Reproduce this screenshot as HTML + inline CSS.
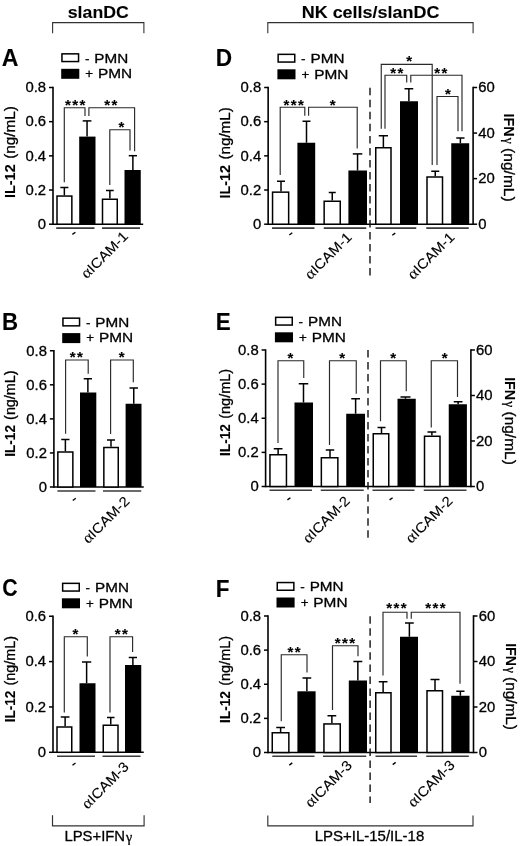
<!DOCTYPE html>
<html><head><meta charset="utf-8"><style>html,body{margin:0;padding:0;background:#fff;overflow:hidden}svg{display:block} text{stroke:#000;stroke-width:0.3px;stroke-linejoin:round} text[font-weight="bold"]{stroke-width:0.1px}</style></head>
<body>
<svg width="520" height="846" viewBox="0 0 520 846" font-family='"Liberation Sans", sans-serif' style="font-kerning:none">
<defs><filter id="bl" x="0" y="0" width="100%" height="100%"><feGaussianBlur stdDeviation="0.35"/></filter></defs>
<rect width="520" height="846" fill="#fff"/>
<g filter="url(#bl)">
<text transform="translate(67.78,17.9) scale(1.0416,1)" font-size="17" font-weight="bold" >slanDC</text>
<polyline points="52.6,33.3 52.6,22.6 143.9,22.6 143.9,33.3" fill="none" stroke="#333" stroke-width="1.1"/>
<text transform="translate(301.7,17.9) scale(1.0569,1)" font-size="17" font-weight="bold" >NK cells/slanDC</text>
<polyline points="267.8,33.3 267.8,22.6 473.1,22.6 473.1,33.3" fill="none" stroke="#333" stroke-width="1.1"/>
<text transform="translate(1.82,66.4) scale(0.9657,1)" font-size="24" font-weight="bold" >A</text>
<text transform="translate(2.11,329.5) scale(0.9292,1)" font-size="24" font-weight="bold" >B</text>
<text transform="translate(2.13,595.8) scale(0.8858,1)" font-size="24" font-weight="bold" >C</text>
<text transform="translate(215.68,66.4) scale(0.9444,1)" font-size="24" font-weight="bold" >D</text>
<text transform="translate(215.7,329.5) scale(0.9358,1)" font-size="24" font-weight="bold" >E</text>
<text transform="translate(215.7,596.5) scale(0.9363,1)" font-size="24" font-weight="bold" >F</text>
<rect x="61.95" y="53.85" width="16.6" height="7.7" fill="#fff" stroke="#000" stroke-width="1.5"/>
<rect x="61.2" y="68.8" width="18.1" height="10" fill="#000"/>
<text transform="translate(84.9,62.5) scale(1.0087,1)" font-size="13.4" font-weight="normal" >-</text>
<text transform="translate(94.35,62.5) scale(1.1383,1)" font-size="13.4" font-weight="normal" >PMN</text>
<text transform="translate(85.35,78.1) scale(0.9984,1)" font-size="13.4" font-weight="normal" >+</text>
<text transform="translate(98.04,78.1) scale(1.1492,1)" font-size="13.4" font-weight="normal" >PMN</text>
<line x1="53" y1="86.75" x2="53" y2="224.95" stroke="#000" stroke-width="1.6" />
<line x1="49" y1="87.5" x2="53" y2="87.5" stroke="#000" stroke-width="1.5" />
<text transform="translate(46.1,92.3) scale(1.04,1)" font-size="14.3" text-anchor="end">0.8</text>
<line x1="49" y1="121.67" x2="53" y2="121.67" stroke="#000" stroke-width="1.5" />
<text transform="translate(46.1,126.48) scale(1.04,1)" font-size="14.3" text-anchor="end">0.6</text>
<line x1="49" y1="155.85" x2="53" y2="155.85" stroke="#000" stroke-width="1.5" />
<text transform="translate(46.1,160.65) scale(1.04,1)" font-size="14.3" text-anchor="end">0.4</text>
<line x1="49" y1="190.02" x2="53" y2="190.02" stroke="#000" stroke-width="1.5" />
<text transform="translate(46.1,194.82) scale(1.04,1)" font-size="14.3" text-anchor="end">0.2</text>
<line x1="49" y1="224.2" x2="53" y2="224.2" stroke="#000" stroke-width="1.5" />
<text transform="translate(46.1,229) scale(1.04,1)" font-size="14.3" text-anchor="end">0</text>
<text transform="translate(15.3,197.96) rotate(-90) scale(0.9609,1)" font-size="15.0" font-weight="bold">IL-12</text>
<text transform="translate(15.3,158.85) rotate(-90) scale(1.0675,1)" font-size="14.3" font-weight="normal">(ng/mL)</text>
<line x1="53" y1="224.2" x2="143.2" y2="224.2" stroke="#000" stroke-width="1.6" />
<line x1="64.35" y1="195.3" x2="64.35" y2="187.5" stroke="#000" stroke-width="1.5" />
<line x1="60.3" y1="187.5" x2="68.4" y2="187.5" stroke="#000" stroke-width="1.5" />
<rect x="57" y="196.05" width="14.85" height="28.15" fill="#fff" stroke="#000" stroke-width="1.5"/>
<line x1="87.05" y1="136.6" x2="87.05" y2="120.9" stroke="#000" stroke-width="1.5" />
<line x1="82.7" y1="120.9" x2="91.4" y2="120.9" stroke="#000" stroke-width="1.5" />
<rect x="79.2" y="136.6" width="16.3" height="87.6" fill="#000"/>
<line x1="109.88" y1="198.5" x2="109.88" y2="190.5" stroke="#000" stroke-width="1.5" />
<line x1="106" y1="190.5" x2="113.75" y2="190.5" stroke="#000" stroke-width="1.5" />
<rect x="102.5" y="199.25" width="14.75" height="24.95" fill="#fff" stroke="#000" stroke-width="1.5"/>
<line x1="132.88" y1="170" x2="132.88" y2="155.7" stroke="#000" stroke-width="1.5" />
<line x1="128.75" y1="155.7" x2="137" y2="155.7" stroke="#000" stroke-width="1.5" />
<rect x="124.5" y="170" width="16.25" height="54.2" fill="#000"/>
<polyline points="64.3,182.3 64.3,107.7 85,107.7 85,116" fill="none" stroke="#2a2a2a" stroke-width="1.15"/>
<polyline points="88.9,116 88.9,107.7 134.6,107.7 134.6,151.25" fill="none" stroke="#2a2a2a" stroke-width="1.15"/>
<polyline points="109.8,185 109.8,129.7 130,129.7 130,150.4" fill="none" stroke="#2a2a2a" stroke-width="1.15"/>
<text x="75.87" y="109.7" font-size="15" font-weight="bold" text-anchor="middle" letter-spacing="1.45">***</text>
<text x="111.47" y="109.7" font-size="15" font-weight="bold" text-anchor="middle" letter-spacing="1.45">**</text>
<text x="122.12" y="132.3" font-size="15" font-weight="bold" text-anchor="middle" letter-spacing="1.45">*</text>
<line x1="56.2" y1="228.1" x2="94.5" y2="228.1" stroke="#3a3a3a" stroke-width="1.6" />
<line x1="102" y1="228.1" x2="140" y2="228.1" stroke="#3a3a3a" stroke-width="1.6" />
<text transform="translate(129,237.2) rotate(-45) scale(1.08,1)" font-size="13.9" text-anchor="end" style="stroke-width:0.12px"><tspan font-family="Liberation Serif" font-size="15.5">&#945;</tspan>ICAM-1</text>
<line x1="72.4" y1="234.4" x2="75.4" y2="232.2" stroke="#000" stroke-width="1.4"/>
<rect x="62.95" y="318.15" width="16.6" height="7.7" fill="#fff" stroke="#000" stroke-width="1.5"/>
<rect x="62.2" y="333.1" width="18.1" height="10" fill="#000"/>
<text transform="translate(85.9,326.8) scale(1.0087,1)" font-size="13.4" font-weight="normal" >-</text>
<text transform="translate(95.35,326.8) scale(1.1383,1)" font-size="13.4" font-weight="normal" >PMN</text>
<text transform="translate(86.35,342.4) scale(0.9984,1)" font-size="13.4" font-weight="normal" >+</text>
<text transform="translate(99.04,342.4) scale(1.1492,1)" font-size="13.4" font-weight="normal" >PMN</text>
<line x1="53.9" y1="350" x2="53.9" y2="487.75" stroke="#000" stroke-width="1.6" />
<line x1="49.9" y1="350.75" x2="53.9" y2="350.75" stroke="#000" stroke-width="1.5" />
<text transform="translate(47,355.55) scale(1.04,1)" font-size="14.3" text-anchor="end">0.8</text>
<line x1="49.9" y1="384.81" x2="53.9" y2="384.81" stroke="#000" stroke-width="1.5" />
<text transform="translate(47,389.61) scale(1.04,1)" font-size="14.3" text-anchor="end">0.6</text>
<line x1="49.9" y1="418.88" x2="53.9" y2="418.88" stroke="#000" stroke-width="1.5" />
<text transform="translate(47,423.67) scale(1.04,1)" font-size="14.3" text-anchor="end">0.4</text>
<line x1="49.9" y1="452.94" x2="53.9" y2="452.94" stroke="#000" stroke-width="1.5" />
<text transform="translate(47,457.74) scale(1.04,1)" font-size="14.3" text-anchor="end">0.2</text>
<line x1="49.9" y1="487" x2="53.9" y2="487" stroke="#000" stroke-width="1.5" />
<text transform="translate(47,491.8) scale(1.04,1)" font-size="14.3" text-anchor="end">0</text>
<text transform="translate(15,456.73) rotate(-90) scale(0.9047,1)" font-size="15.0" font-weight="bold">IL-12</text>
<text transform="translate(15,419.9) rotate(-90) scale(1.0050,1)" font-size="14.3" font-weight="normal">(ng/mL)</text>
<line x1="53.9" y1="487" x2="143.75" y2="487" stroke="#000" stroke-width="1.6" />
<line x1="65.38" y1="451.25" x2="65.38" y2="439.5" stroke="#000" stroke-width="1.5" />
<line x1="61.25" y1="439.5" x2="69.5" y2="439.5" stroke="#000" stroke-width="1.5" />
<rect x="57.85" y="452" width="15" height="35" fill="#fff" stroke="#000" stroke-width="1.5"/>
<line x1="87.88" y1="392.5" x2="87.88" y2="378.75" stroke="#000" stroke-width="1.5" />
<line x1="83.75" y1="378.75" x2="92" y2="378.75" stroke="#000" stroke-width="1.5" />
<rect x="80" y="392.5" width="16.3" height="94.5" fill="#000"/>
<line x1="111" y1="446.75" x2="111" y2="440" stroke="#000" stroke-width="1.5" />
<line x1="107" y1="440" x2="115" y2="440" stroke="#000" stroke-width="1.5" />
<rect x="103.85" y="447.5" width="14.4" height="39.5" fill="#fff" stroke="#000" stroke-width="1.5"/>
<line x1="133.75" y1="403.75" x2="133.75" y2="388" stroke="#000" stroke-width="1.5" />
<line x1="129.5" y1="388" x2="138" y2="388" stroke="#000" stroke-width="1.5" />
<rect x="125.6" y="403.75" width="15.9" height="83.25" fill="#000"/>
<polyline points="65.6,433.75 65.6,360 88.2,360 88.2,373.8" fill="none" stroke="#2a2a2a" stroke-width="1.15"/>
<polyline points="110.6,434 110.6,360 133.3,360 133.3,382.3" fill="none" stroke="#2a2a2a" stroke-width="1.15"/>
<text x="77.12" y="362.2" font-size="15" font-weight="bold" text-anchor="middle" letter-spacing="1.45">**</text>
<text x="122.47" y="362.2" font-size="15" font-weight="bold" text-anchor="middle" letter-spacing="1.45">*</text>
<line x1="57.4" y1="491" x2="95.5" y2="491" stroke="#3a3a3a" stroke-width="1.6" />
<line x1="103" y1="491" x2="141.25" y2="491" stroke="#3a3a3a" stroke-width="1.6" />
<text transform="translate(130.3,502.2) rotate(-45) scale(1.08,1)" font-size="13.9" text-anchor="end" style="stroke-width:0.12px"><tspan font-family="Liberation Serif" font-size="15.5">&#945;</tspan>ICAM-2</text>
<line x1="72.8" y1="500.5" x2="75.8" y2="498.3" stroke="#000" stroke-width="1.4"/>
<rect x="62.65" y="583.35" width="16.6" height="7.7" fill="#fff" stroke="#000" stroke-width="1.5"/>
<rect x="61.9" y="598.3" width="18.1" height="10" fill="#000"/>
<text transform="translate(85.6,592) scale(1.0087,1)" font-size="13.4" font-weight="normal" >-</text>
<text transform="translate(95.05,592) scale(1.1383,1)" font-size="13.4" font-weight="normal" >PMN</text>
<text transform="translate(86.05,607.6) scale(0.9984,1)" font-size="13.4" font-weight="normal" >+</text>
<text transform="translate(98.74,607.6) scale(1.1492,1)" font-size="13.4" font-weight="normal" >PMN</text>
<line x1="53" y1="615.5" x2="53" y2="753.05" stroke="#000" stroke-width="1.6" />
<line x1="49" y1="616.25" x2="53" y2="616.25" stroke="#000" stroke-width="1.5" />
<text transform="translate(46.1,621.05) scale(1.04,1)" font-size="14.3" text-anchor="end">0.6</text>
<line x1="49" y1="661.6" x2="53" y2="661.6" stroke="#000" stroke-width="1.5" />
<text transform="translate(46.1,666.4) scale(1.04,1)" font-size="14.3" text-anchor="end">0.4</text>
<line x1="49" y1="706.95" x2="53" y2="706.95" stroke="#000" stroke-width="1.5" />
<text transform="translate(46.1,711.75) scale(1.04,1)" font-size="14.3" text-anchor="end">0.2</text>
<line x1="49" y1="752.3" x2="53" y2="752.3" stroke="#000" stroke-width="1.5" />
<text transform="translate(46.1,757.1) scale(1.04,1)" font-size="14.3" text-anchor="end">0</text>
<text transform="translate(14.8,722.33) rotate(-90) scale(0.9058,1)" font-size="15.0" font-weight="bold">IL-12</text>
<text transform="translate(14.8,685.46) rotate(-90) scale(1.0062,1)" font-size="14.3" font-weight="normal">(ng/mL)</text>
<line x1="53" y1="752.3" x2="143.75" y2="752.3" stroke="#000" stroke-width="1.6" />
<line x1="65.12" y1="726.25" x2="65.12" y2="717" stroke="#000" stroke-width="1.5" />
<line x1="60.75" y1="717" x2="69.5" y2="717" stroke="#000" stroke-width="1.5" />
<rect x="57" y="727" width="14.75" height="25.3" fill="#fff" stroke="#000" stroke-width="1.5"/>
<line x1="86.62" y1="683.25" x2="86.62" y2="662" stroke="#000" stroke-width="1.5" />
<line x1="82" y1="662" x2="91.25" y2="662" stroke="#000" stroke-width="1.5" />
<rect x="79.5" y="683.25" width="16" height="69.05" fill="#000"/>
<line x1="110.75" y1="724.5" x2="110.75" y2="717.5" stroke="#000" stroke-width="1.5" />
<line x1="107" y1="717.5" x2="114.5" y2="717.5" stroke="#000" stroke-width="1.5" />
<rect x="103.25" y="725.25" width="14.75" height="27.05" fill="#fff" stroke="#000" stroke-width="1.5"/>
<line x1="132.88" y1="665" x2="132.88" y2="657.5" stroke="#000" stroke-width="1.5" />
<line x1="128.75" y1="657.5" x2="137" y2="657.5" stroke="#000" stroke-width="1.5" />
<rect x="125" y="665" width="16.25" height="87.3" fill="#000"/>
<polyline points="64.3,712.5 64.3,636.7 87.3,636.7 87.3,656.6" fill="none" stroke="#2a2a2a" stroke-width="1.15"/>
<polyline points="110,712.5 110,636.7 132.6,636.7 132.6,652" fill="none" stroke="#2a2a2a" stroke-width="1.15"/>
<text x="76.12" y="639.2" font-size="15" font-weight="bold" text-anchor="middle" letter-spacing="1.45">*</text>
<text x="122.12" y="639.2" font-size="15" font-weight="bold" text-anchor="middle" letter-spacing="1.45">**</text>
<line x1="57" y1="756.2" x2="95" y2="756.2" stroke="#3a3a3a" stroke-width="1.6" />
<line x1="102.5" y1="756.2" x2="140.5" y2="756.2" stroke="#3a3a3a" stroke-width="1.6" />
<text transform="translate(129.7,767.5) rotate(-45) scale(1.08,1)" font-size="13.9" text-anchor="end" style="stroke-width:0.12px"><tspan font-family="Liberation Serif" font-size="15.5">&#945;</tspan>ICAM-3</text>
<line x1="72.5" y1="765.2" x2="75.5" y2="763" stroke="#000" stroke-width="1.4"/>
<polyline points="52.5,815.3 52.5,825.9 144.1,825.9 144.1,815.3" fill="none" stroke="#333" stroke-width="1.15"/>
<text transform="translate(64.38,841.2) scale(1.0253,1)" font-size="14.5" font-weight="normal" >LPS+IFN</text>
<text x="125.9" y="841.5" font-size="14" font-family="Liberation Serif">&#947;</text>
<rect x="278.15" y="54.35" width="16.6" height="7.7" fill="#fff" stroke="#000" stroke-width="1.5"/>
<rect x="277.4" y="69.3" width="18.1" height="10" fill="#000"/>
<text transform="translate(301.1,63) scale(1.0087,1)" font-size="13.4" font-weight="normal" >-</text>
<text transform="translate(310.55,63) scale(1.1383,1)" font-size="13.4" font-weight="normal" >PMN</text>
<text transform="translate(301.55,78.6) scale(0.9984,1)" font-size="13.4" font-weight="normal" >+</text>
<text transform="translate(314.24,78.6) scale(1.1492,1)" font-size="13.4" font-weight="normal" >PMN</text>
<line x1="268.15" y1="86.75" x2="268.15" y2="224.95" stroke="#000" stroke-width="1.6" />
<line x1="264.15" y1="87.5" x2="268.15" y2="87.5" stroke="#000" stroke-width="1.5" />
<text transform="translate(261.25,92.3) scale(1.04,1)" font-size="14.3" text-anchor="end">0.8</text>
<line x1="264.15" y1="121.67" x2="268.15" y2="121.67" stroke="#000" stroke-width="1.5" />
<text transform="translate(261.25,126.48) scale(1.04,1)" font-size="14.3" text-anchor="end">0.6</text>
<line x1="264.15" y1="155.85" x2="268.15" y2="155.85" stroke="#000" stroke-width="1.5" />
<text transform="translate(261.25,160.65) scale(1.04,1)" font-size="14.3" text-anchor="end">0.4</text>
<line x1="264.15" y1="190.02" x2="268.15" y2="190.02" stroke="#000" stroke-width="1.5" />
<text transform="translate(261.25,194.82) scale(1.04,1)" font-size="14.3" text-anchor="end">0.2</text>
<line x1="264.15" y1="224.2" x2="268.15" y2="224.2" stroke="#000" stroke-width="1.5" />
<text transform="translate(261.25,229) scale(1.04,1)" font-size="14.3" text-anchor="end">0</text>
<line x1="473.1" y1="86.75" x2="473.1" y2="224.95" stroke="#000" stroke-width="1.6" />
<line x1="473.1" y1="87.5" x2="477.1" y2="87.5" stroke="#000" stroke-width="1.5" />
<text transform="translate(478.3,92.3) scale(1.04,1)" font-size="14.3" text-anchor="start">60</text>
<line x1="473.1" y1="133.07" x2="477.1" y2="133.07" stroke="#000" stroke-width="1.5" />
<text transform="translate(478.3,137.87) scale(1.04,1)" font-size="14.3" text-anchor="start">40</text>
<line x1="473.1" y1="178.63" x2="477.1" y2="178.63" stroke="#000" stroke-width="1.5" />
<text transform="translate(478.3,183.43) scale(1.04,1)" font-size="14.3" text-anchor="start">20</text>
<line x1="473.1" y1="224.2" x2="477.1" y2="224.2" stroke="#000" stroke-width="1.5" />
<text transform="translate(478.3,229) scale(1.04,1)" font-size="14.3" text-anchor="start">0</text>
<text transform="translate(230.3,198.56) rotate(-90) scale(0.9577,1)" font-size="15.0" font-weight="bold">IL-12</text>
<text transform="translate(230.3,159.57) rotate(-90) scale(1.0640,1)" font-size="14.3" font-weight="normal">(ng/mL)</text>
<text transform="translate(503.9,113.44) rotate(90) scale(0.9617,1)" font-size="15.0" font-weight="bold">IFN</text>
<text transform="translate(503.9,137.82) rotate(90) scale(0.9684,1)" font-size="14.0" font-weight="normal" font-family="Liberation Serif">&#947;</text>
<text transform="translate(503.9,148.03) rotate(90) scale(1.0907,1)" font-size="14.3" font-weight="normal">(ng/mL)</text>
<line x1="268.15" y1="224.2" x2="473.1" y2="224.2" stroke="#000" stroke-width="1.6" />
<line x1="370" y1="87.8" x2="370" y2="276" stroke="#111" stroke-width="1.4" stroke-dasharray="7.5 4.52"/>
<line x1="281" y1="191.4" x2="281" y2="181.25" stroke="#000" stroke-width="1.5" />
<line x1="277" y1="181.25" x2="285" y2="181.25" stroke="#000" stroke-width="1.5" />
<rect x="272.55" y="192.15" width="16.1" height="32.05" fill="#fff" stroke="#000" stroke-width="1.5"/>
<line x1="306.5" y1="142.75" x2="306.5" y2="121.25" stroke="#000" stroke-width="1.5" />
<line x1="302.5" y1="121.25" x2="310.5" y2="121.25" stroke="#000" stroke-width="1.5" />
<rect x="297.4" y="142.75" width="17.8" height="81.45" fill="#000"/>
<line x1="332.25" y1="200.5" x2="332.25" y2="192.5" stroke="#000" stroke-width="1.5" />
<line x1="328.75" y1="192.5" x2="335.75" y2="192.5" stroke="#000" stroke-width="1.5" />
<rect x="324.15" y="201.25" width="16.1" height="22.95" fill="#fff" stroke="#000" stroke-width="1.5"/>
<line x1="357.55" y1="170.5" x2="357.55" y2="153.9" stroke="#000" stroke-width="1.5" />
<line x1="352.8" y1="153.9" x2="362.3" y2="153.9" stroke="#000" stroke-width="1.5" />
<rect x="348.4" y="170.5" width="18.6" height="53.7" fill="#000"/>
<line x1="383.38" y1="147" x2="383.38" y2="135.75" stroke="#000" stroke-width="1.5" />
<line x1="378.75" y1="135.75" x2="388" y2="135.75" stroke="#000" stroke-width="1.5" />
<rect x="375.75" y="147.75" width="15.25" height="76.45" fill="#fff" stroke="#000" stroke-width="1.5"/>
<line x1="408.88" y1="101.25" x2="408.88" y2="88.75" stroke="#000" stroke-width="1.5" />
<line x1="404.5" y1="88.75" x2="413.25" y2="88.75" stroke="#000" stroke-width="1.5" />
<rect x="400" y="101.25" width="18" height="122.95" fill="#000"/>
<line x1="435.25" y1="176.25" x2="435.25" y2="171.25" stroke="#000" stroke-width="1.5" />
<line x1="431.25" y1="171.25" x2="439.25" y2="171.25" stroke="#000" stroke-width="1.5" />
<rect x="427" y="177" width="15.5" height="47.2" fill="#fff" stroke="#000" stroke-width="1.5"/>
<line x1="460.38" y1="143.25" x2="460.38" y2="138" stroke="#000" stroke-width="1.5" />
<line x1="456.25" y1="138" x2="464.5" y2="138" stroke="#000" stroke-width="1.5" />
<rect x="451.25" y="143.25" width="17.95" height="80.95" fill="#000"/>
<polyline points="280.2,175 280.2,107.2 304.8,107.2 304.8,115.8" fill="none" stroke="#2a2a2a" stroke-width="1.15"/>
<polyline points="308.6,115.8 308.6,107.2 357.2,107.2 357.2,148.6" fill="none" stroke="#2a2a2a" stroke-width="1.15"/>
<polyline points="381.25,128.75 381.25,64.3 432.2,64.3 432.2,165" fill="none" stroke="#2a2a2a" stroke-width="1.15"/>
<polyline points="385,128.75 385,75.2 406.7,75.2 406.7,82.6" fill="none" stroke="#2a2a2a" stroke-width="1.15"/>
<polyline points="410.8,82.6 410.8,75.2 462,75.2 462,131.25" fill="none" stroke="#2a2a2a" stroke-width="1.15"/>
<polyline points="437,165 437,96.5 458,96.5 458,131.25" fill="none" stroke="#2a2a2a" stroke-width="1.15"/>
<text x="294.47" y="109.6" font-size="15" font-weight="bold" text-anchor="middle" letter-spacing="1.45">***</text>
<text x="333.32" y="109.6" font-size="15" font-weight="bold" text-anchor="middle" letter-spacing="1.45">*</text>
<text x="409.82" y="66.2" font-size="15" font-weight="bold" text-anchor="middle" letter-spacing="1.45">*</text>
<text x="397.62" y="77.7" font-size="15" font-weight="bold" text-anchor="middle" letter-spacing="1.45">**</text>
<text x="441.62" y="77.7" font-size="15" font-weight="bold" text-anchor="middle" letter-spacing="1.45">**</text>
<text x="448.72" y="99.2" font-size="15" font-weight="bold" text-anchor="middle" letter-spacing="1.45">*</text>
<line x1="272" y1="228.1" x2="314.5" y2="228.1" stroke="#3a3a3a" stroke-width="1.6" />
<line x1="323.75" y1="228.1" x2="366.25" y2="228.1" stroke="#3a3a3a" stroke-width="1.6" />
<line x1="375.5" y1="228.1" x2="416.25" y2="228.1" stroke="#3a3a3a" stroke-width="1.6" />
<line x1="426.25" y1="228.1" x2="468.8" y2="228.1" stroke="#3a3a3a" stroke-width="1.6" />
<text transform="translate(352.6,238.1) rotate(-45) scale(1.08,1)" font-size="13.9" text-anchor="end" style="stroke-width:0.12px"><tspan font-family="Liberation Serif" font-size="15.5">&#945;</tspan>ICAM-1</text>
<line x1="289.3" y1="235" x2="292.3" y2="232.8" stroke="#000" stroke-width="1.4"/>
<text transform="translate(455.3,238.1) rotate(-45) scale(1.08,1)" font-size="13.9" text-anchor="end" style="stroke-width:0.12px"><tspan font-family="Liberation Serif" font-size="15.5">&#945;</tspan>ICAM-1</text>
<line x1="392.3" y1="235.3" x2="395.3" y2="233.1" stroke="#000" stroke-width="1.4"/>
<rect x="275.65" y="317.35" width="16.6" height="7.7" fill="#fff" stroke="#000" stroke-width="1.5"/>
<rect x="274.9" y="332.3" width="18.1" height="10" fill="#000"/>
<text transform="translate(298.6,326) scale(1.0087,1)" font-size="13.4" font-weight="normal" >-</text>
<text transform="translate(308.05,326) scale(1.1383,1)" font-size="13.4" font-weight="normal" >PMN</text>
<text transform="translate(299.05,341.6) scale(0.9984,1)" font-size="13.4" font-weight="normal" >+</text>
<text transform="translate(311.74,341.6) scale(1.1492,1)" font-size="13.4" font-weight="normal" >PMN</text>
<line x1="265.6" y1="349.25" x2="265.6" y2="487.25" stroke="#000" stroke-width="1.6" />
<line x1="261.6" y1="350" x2="265.6" y2="350" stroke="#000" stroke-width="1.5" />
<text transform="translate(258.7,354.8) scale(1.04,1)" font-size="14.3" text-anchor="end">0.8</text>
<line x1="261.6" y1="384.12" x2="265.6" y2="384.12" stroke="#000" stroke-width="1.5" />
<text transform="translate(258.7,388.92) scale(1.04,1)" font-size="14.3" text-anchor="end">0.6</text>
<line x1="261.6" y1="418.25" x2="265.6" y2="418.25" stroke="#000" stroke-width="1.5" />
<text transform="translate(258.7,423.05) scale(1.04,1)" font-size="14.3" text-anchor="end">0.4</text>
<line x1="261.6" y1="452.38" x2="265.6" y2="452.38" stroke="#000" stroke-width="1.5" />
<text transform="translate(258.7,457.17) scale(1.04,1)" font-size="14.3" text-anchor="end">0.2</text>
<line x1="261.6" y1="486.5" x2="265.6" y2="486.5" stroke="#000" stroke-width="1.5" />
<text transform="translate(258.7,491.3) scale(1.04,1)" font-size="14.3" text-anchor="end">0</text>
<line x1="470.9" y1="349.25" x2="470.9" y2="487.25" stroke="#000" stroke-width="1.6" />
<line x1="470.9" y1="350" x2="474.9" y2="350" stroke="#000" stroke-width="1.5" />
<text transform="translate(476.1,354.8) scale(1.04,1)" font-size="14.3" text-anchor="start">60</text>
<line x1="470.9" y1="395.5" x2="474.9" y2="395.5" stroke="#000" stroke-width="1.5" />
<text transform="translate(476.1,400.3) scale(1.04,1)" font-size="14.3" text-anchor="start">40</text>
<line x1="470.9" y1="441" x2="474.9" y2="441" stroke="#000" stroke-width="1.5" />
<text transform="translate(476.1,445.8) scale(1.04,1)" font-size="14.3" text-anchor="start">20</text>
<line x1="470.9" y1="486.5" x2="474.9" y2="486.5" stroke="#000" stroke-width="1.5" />
<text transform="translate(476.1,491.3) scale(1.04,1)" font-size="14.3" text-anchor="start">0</text>
<text transform="translate(229.8,456.04) rotate(-90) scale(0.9142,1)" font-size="15.0" font-weight="bold">IL-12</text>
<text transform="translate(229.8,418.82) rotate(-90) scale(1.0157,1)" font-size="14.3" font-weight="normal">(ng/mL)</text>
<text transform="translate(504.9,377.14) rotate(90) scale(0.9551,1)" font-size="15.0" font-weight="bold">IFN</text>
<text transform="translate(504.9,401.35) rotate(90) scale(0.9618,1)" font-size="14.0" font-weight="normal" font-family="Liberation Serif">&#947;</text>
<text transform="translate(504.9,411.5) rotate(90) scale(1.0832,1)" font-size="14.3" font-weight="normal">(ng/mL)</text>
<line x1="265.6" y1="486.5" x2="470.9" y2="486.5" stroke="#000" stroke-width="1.6" />
<line x1="368" y1="349.9" x2="368" y2="538" stroke="#111" stroke-width="1.4" stroke-dasharray="7.5 4.52"/>
<line x1="278.12" y1="454" x2="278.12" y2="448.75" stroke="#000" stroke-width="1.5" />
<line x1="273.75" y1="448.75" x2="282.5" y2="448.75" stroke="#000" stroke-width="1.5" />
<rect x="269.95" y="454.75" width="16.5" height="31.75" fill="#fff" stroke="#000" stroke-width="1.5"/>
<line x1="303.5" y1="402.5" x2="303.5" y2="383.75" stroke="#000" stroke-width="1.5" />
<line x1="298.75" y1="383.75" x2="308.25" y2="383.75" stroke="#000" stroke-width="1.5" />
<rect x="294.5" y="402.5" width="18.5" height="84" fill="#000"/>
<line x1="330" y1="457" x2="330" y2="450" stroke="#000" stroke-width="1.5" />
<line x1="325.75" y1="450" x2="334.25" y2="450" stroke="#000" stroke-width="1.5" />
<rect x="321.35" y="457.75" width="16.5" height="28.75" fill="#fff" stroke="#000" stroke-width="1.5"/>
<line x1="355.62" y1="413.75" x2="355.62" y2="398.75" stroke="#000" stroke-width="1.5" />
<line x1="351.25" y1="398.75" x2="360" y2="398.75" stroke="#000" stroke-width="1.5" />
<rect x="346.2" y="413.75" width="18.8" height="72.75" fill="#000"/>
<line x1="381.5" y1="433" x2="381.5" y2="427.5" stroke="#000" stroke-width="1.5" />
<line x1="377.5" y1="427.5" x2="385.5" y2="427.5" stroke="#000" stroke-width="1.5" />
<rect x="373.25" y="433.75" width="15.5" height="52.75" fill="#fff" stroke="#000" stroke-width="1.5"/>
<line x1="405.5" y1="398.75" x2="405.5" y2="397" stroke="#000" stroke-width="1.5" />
<line x1="400.5" y1="397" x2="410.5" y2="397" stroke="#000" stroke-width="1.5" />
<rect x="397.5" y="398.75" width="18.25" height="87.75" fill="#000"/>
<line x1="431.88" y1="435.5" x2="431.88" y2="432" stroke="#000" stroke-width="1.5" />
<line x1="427.5" y1="432" x2="436.25" y2="432" stroke="#000" stroke-width="1.5" />
<rect x="424.5" y="436.25" width="15.5" height="50.25" fill="#fff" stroke="#000" stroke-width="1.5"/>
<line x1="458.12" y1="404.25" x2="458.12" y2="401.75" stroke="#000" stroke-width="1.5" />
<line x1="453.75" y1="401.75" x2="462.5" y2="401.75" stroke="#000" stroke-width="1.5" />
<rect x="448.75" y="404.25" width="18.15" height="82.25" fill="#000"/>
<polyline points="278,443 278,360.75 303.75,360.75 303.75,378" fill="none" stroke="#2a2a2a" stroke-width="1.15"/>
<polyline points="329.5,445 329.5,360.75 356.25,360.75 356.25,393.75" fill="none" stroke="#2a2a2a" stroke-width="1.15"/>
<polyline points="380.5,421.25 380.5,360.75 406.25,360.75 406.25,391.25" fill="none" stroke="#2a2a2a" stroke-width="1.15"/>
<polyline points="431.25,427.5 431.25,360.75 457.5,360.75 457.5,397" fill="none" stroke="#2a2a2a" stroke-width="1.15"/>
<text x="291.12" y="362.7" font-size="15" font-weight="bold" text-anchor="middle" letter-spacing="1.45">*</text>
<text x="342.82" y="362.7" font-size="15" font-weight="bold" text-anchor="middle" letter-spacing="1.45">*</text>
<text x="394.02" y="362.7" font-size="15" font-weight="bold" text-anchor="middle" letter-spacing="1.45">*</text>
<text x="445.42" y="362.7" font-size="15" font-weight="bold" text-anchor="middle" letter-spacing="1.45">*</text>
<line x1="269.5" y1="490.3" x2="312" y2="490.3" stroke="#3a3a3a" stroke-width="1.6" />
<line x1="320.75" y1="490.3" x2="363.75" y2="490.3" stroke="#3a3a3a" stroke-width="1.6" />
<line x1="372.5" y1="490.3" x2="414.5" y2="490.3" stroke="#3a3a3a" stroke-width="1.6" />
<line x1="423.75" y1="490.3" x2="466.5" y2="490.3" stroke="#3a3a3a" stroke-width="1.6" />
<text transform="translate(350.7,501.8) rotate(-45) scale(1.08,1)" font-size="13.9" text-anchor="end" style="stroke-width:0.12px"><tspan font-family="Liberation Serif" font-size="15.5">&#945;</tspan>ICAM-2</text>
<line x1="287.4" y1="499.9" x2="290.4" y2="497.7" stroke="#000" stroke-width="1.4"/>
<text transform="translate(453.4,501.8) rotate(-45) scale(1.08,1)" font-size="13.9" text-anchor="end" style="stroke-width:0.12px"><tspan font-family="Liberation Serif" font-size="15.5">&#945;</tspan>ICAM-2</text>
<line x1="389.6" y1="499.9" x2="392.6" y2="497.7" stroke="#000" stroke-width="1.4"/>
<rect x="277.25" y="582.55" width="16.6" height="7.7" fill="#fff" stroke="#000" stroke-width="1.5"/>
<rect x="276.5" y="597.5" width="18.1" height="10" fill="#000"/>
<text transform="translate(300.2,591.2) scale(1.0087,1)" font-size="13.4" font-weight="normal" >-</text>
<text transform="translate(309.65,591.2) scale(1.1383,1)" font-size="13.4" font-weight="normal" >PMN</text>
<text transform="translate(300.65,606.8) scale(0.9984,1)" font-size="13.4" font-weight="normal" >+</text>
<text transform="translate(313.34,606.8) scale(1.1492,1)" font-size="13.4" font-weight="normal" >PMN</text>
<line x1="268" y1="615.25" x2="268" y2="753.25" stroke="#000" stroke-width="1.6" />
<line x1="264" y1="616" x2="268" y2="616" stroke="#000" stroke-width="1.5" />
<text transform="translate(261.1,620.8) scale(1.04,1)" font-size="14.3" text-anchor="end">0.8</text>
<line x1="264" y1="650.12" x2="268" y2="650.12" stroke="#000" stroke-width="1.5" />
<text transform="translate(261.1,654.92) scale(1.04,1)" font-size="14.3" text-anchor="end">0.6</text>
<line x1="264" y1="684.25" x2="268" y2="684.25" stroke="#000" stroke-width="1.5" />
<text transform="translate(261.1,689.05) scale(1.04,1)" font-size="14.3" text-anchor="end">0.4</text>
<line x1="264" y1="718.38" x2="268" y2="718.38" stroke="#000" stroke-width="1.5" />
<text transform="translate(261.1,723.17) scale(1.04,1)" font-size="14.3" text-anchor="end">0.2</text>
<line x1="264" y1="752.5" x2="268" y2="752.5" stroke="#000" stroke-width="1.5" />
<text transform="translate(261.1,757.3) scale(1.04,1)" font-size="14.3" text-anchor="end">0</text>
<line x1="473.5" y1="615.25" x2="473.5" y2="753.25" stroke="#000" stroke-width="1.6" />
<line x1="473.5" y1="616" x2="477.5" y2="616" stroke="#000" stroke-width="1.5" />
<text transform="translate(478.7,620.8) scale(1.04,1)" font-size="14.3" text-anchor="start">60</text>
<line x1="473.5" y1="661.5" x2="477.5" y2="661.5" stroke="#000" stroke-width="1.5" />
<text transform="translate(478.7,666.3) scale(1.04,1)" font-size="14.3" text-anchor="start">40</text>
<line x1="473.5" y1="707" x2="477.5" y2="707" stroke="#000" stroke-width="1.5" />
<text transform="translate(478.7,711.8) scale(1.04,1)" font-size="14.3" text-anchor="start">20</text>
<line x1="473.5" y1="752.5" x2="477.5" y2="752.5" stroke="#000" stroke-width="1.5" />
<text transform="translate(478.7,757.3) scale(1.04,1)" font-size="14.3" text-anchor="start">0</text>
<text transform="translate(229.8,722.94) rotate(-90) scale(0.9121,1)" font-size="15.0" font-weight="bold">IL-12</text>
<text transform="translate(229.8,685.8) rotate(-90) scale(1.0133,1)" font-size="14.3" font-weight="normal">(ng/mL)</text>
<text transform="translate(505.5,643.14) rotate(90) scale(0.9441,1)" font-size="15.0" font-weight="bold">IFN</text>
<text transform="translate(505.5,667.08) rotate(90) scale(0.9507,1)" font-size="14.0" font-weight="normal" font-family="Liberation Serif">&#947;</text>
<text transform="translate(505.5,677.11) rotate(90) scale(1.0707,1)" font-size="14.3" font-weight="normal">(ng/mL)</text>
<line x1="268" y1="752.5" x2="473.5" y2="752.5" stroke="#000" stroke-width="1.6" />
<line x1="370.1" y1="616.3" x2="370.1" y2="803" stroke="#111" stroke-width="1.4" stroke-dasharray="7.5 4.52"/>
<line x1="280.62" y1="732" x2="280.62" y2="727.5" stroke="#000" stroke-width="1.5" />
<line x1="276.25" y1="727.5" x2="285" y2="727.5" stroke="#000" stroke-width="1.5" />
<rect x="272.25" y="732.75" width="16.6" height="19.75" fill="#fff" stroke="#000" stroke-width="1.5"/>
<line x1="306.88" y1="691.3" x2="306.88" y2="678" stroke="#000" stroke-width="1.5" />
<line x1="302.5" y1="678" x2="311.25" y2="678" stroke="#000" stroke-width="1.5" />
<rect x="297.4" y="691.3" width="18.2" height="61.2" fill="#000"/>
<line x1="331.88" y1="723.2" x2="331.88" y2="715.75" stroke="#000" stroke-width="1.5" />
<line x1="327.5" y1="715.75" x2="336.25" y2="715.75" stroke="#000" stroke-width="1.5" />
<rect x="323.95" y="723.95" width="16.3" height="28.55" fill="#fff" stroke="#000" stroke-width="1.5"/>
<line x1="357.85" y1="680.5" x2="357.85" y2="661.5" stroke="#000" stroke-width="1.5" />
<line x1="353.4" y1="661.5" x2="362.3" y2="661.5" stroke="#000" stroke-width="1.5" />
<rect x="348.8" y="680.5" width="18.2" height="72" fill="#000"/>
<line x1="383.12" y1="692" x2="383.12" y2="681.75" stroke="#000" stroke-width="1.5" />
<line x1="378.75" y1="681.75" x2="387.5" y2="681.75" stroke="#000" stroke-width="1.5" />
<rect x="375.75" y="692.75" width="15.25" height="59.75" fill="#fff" stroke="#000" stroke-width="1.5"/>
<line x1="409.38" y1="636.75" x2="409.38" y2="623" stroke="#000" stroke-width="1.5" />
<line x1="405" y1="623" x2="413.75" y2="623" stroke="#000" stroke-width="1.5" />
<rect x="400" y="636.75" width="18" height="115.75" fill="#000"/>
<line x1="435" y1="690" x2="435" y2="679.5" stroke="#000" stroke-width="1.5" />
<line x1="430.5" y1="679.5" x2="439.5" y2="679.5" stroke="#000" stroke-width="1.5" />
<rect x="427" y="690.75" width="15.5" height="61.75" fill="#fff" stroke="#000" stroke-width="1.5"/>
<line x1="460.38" y1="695.75" x2="460.38" y2="691.25" stroke="#000" stroke-width="1.5" />
<line x1="456.25" y1="691.25" x2="464.5" y2="691.25" stroke="#000" stroke-width="1.5" />
<rect x="451.25" y="695.75" width="18.25" height="56.75" fill="#000"/>
<polyline points="281.25,721.25 281.25,654.75 307,654.75 307,672.5" fill="none" stroke="#2a2a2a" stroke-width="1.15"/>
<polyline points="332.5,710 332.5,645.75 358,645.75 358,656.25" fill="none" stroke="#2a2a2a" stroke-width="1.15"/>
<polyline points="383,675.5 383,612.25 407,612.25 407,618.75" fill="none" stroke="#2a2a2a" stroke-width="1.15"/>
<polyline points="411.25,618.75 411.25,612.25 460,612.25 460,683.75" fill="none" stroke="#2a2a2a" stroke-width="1.15"/>
<text x="294.72" y="657.4" font-size="15" font-weight="bold" text-anchor="middle" letter-spacing="1.45">**</text>
<text x="345.72" y="648.4" font-size="15" font-weight="bold" text-anchor="middle" letter-spacing="1.45">***</text>
<text x="397.12" y="613.3" font-size="15" font-weight="bold" text-anchor="middle" letter-spacing="1.45">***</text>
<text x="436.12" y="613.3" font-size="15" font-weight="bold" text-anchor="middle" letter-spacing="1.45">***</text>
<line x1="272.3" y1="756.3" x2="314.5" y2="756.3" stroke="#3a3a3a" stroke-width="1.6" />
<line x1="323" y1="756.3" x2="366.25" y2="756.3" stroke="#3a3a3a" stroke-width="1.6" />
<line x1="375.5" y1="756.3" x2="417" y2="756.3" stroke="#3a3a3a" stroke-width="1.6" />
<line x1="426.25" y1="756.3" x2="468.8" y2="756.3" stroke="#3a3a3a" stroke-width="1.6" />
<text transform="translate(353,766.2) rotate(-45) scale(1.08,1)" font-size="13.9" text-anchor="end" style="stroke-width:0.12px"><tspan font-family="Liberation Serif" font-size="15.5">&#945;</tspan>ICAM-3</text>
<line x1="289.3" y1="765.1" x2="292.3" y2="762.9" stroke="#000" stroke-width="1.4"/>
<text transform="translate(455.7,765.8) rotate(-45) scale(1.08,1)" font-size="13.9" text-anchor="end" style="stroke-width:0.12px"><tspan font-family="Liberation Serif" font-size="15.5">&#945;</tspan>ICAM-3</text>
<line x1="392.7" y1="764.6" x2="395.7" y2="762.4" stroke="#000" stroke-width="1.4"/>
<polyline points="267.8,815.5 267.8,825.9 473,825.9 473,815.5" fill="none" stroke="#333" stroke-width="1.15"/>
<text transform="translate(314.67,840.8) scale(1.0492,1)" font-size="14.3" font-weight="normal" >LPS+IL-15/IL-18</text>
</g></svg>
</body></html>
